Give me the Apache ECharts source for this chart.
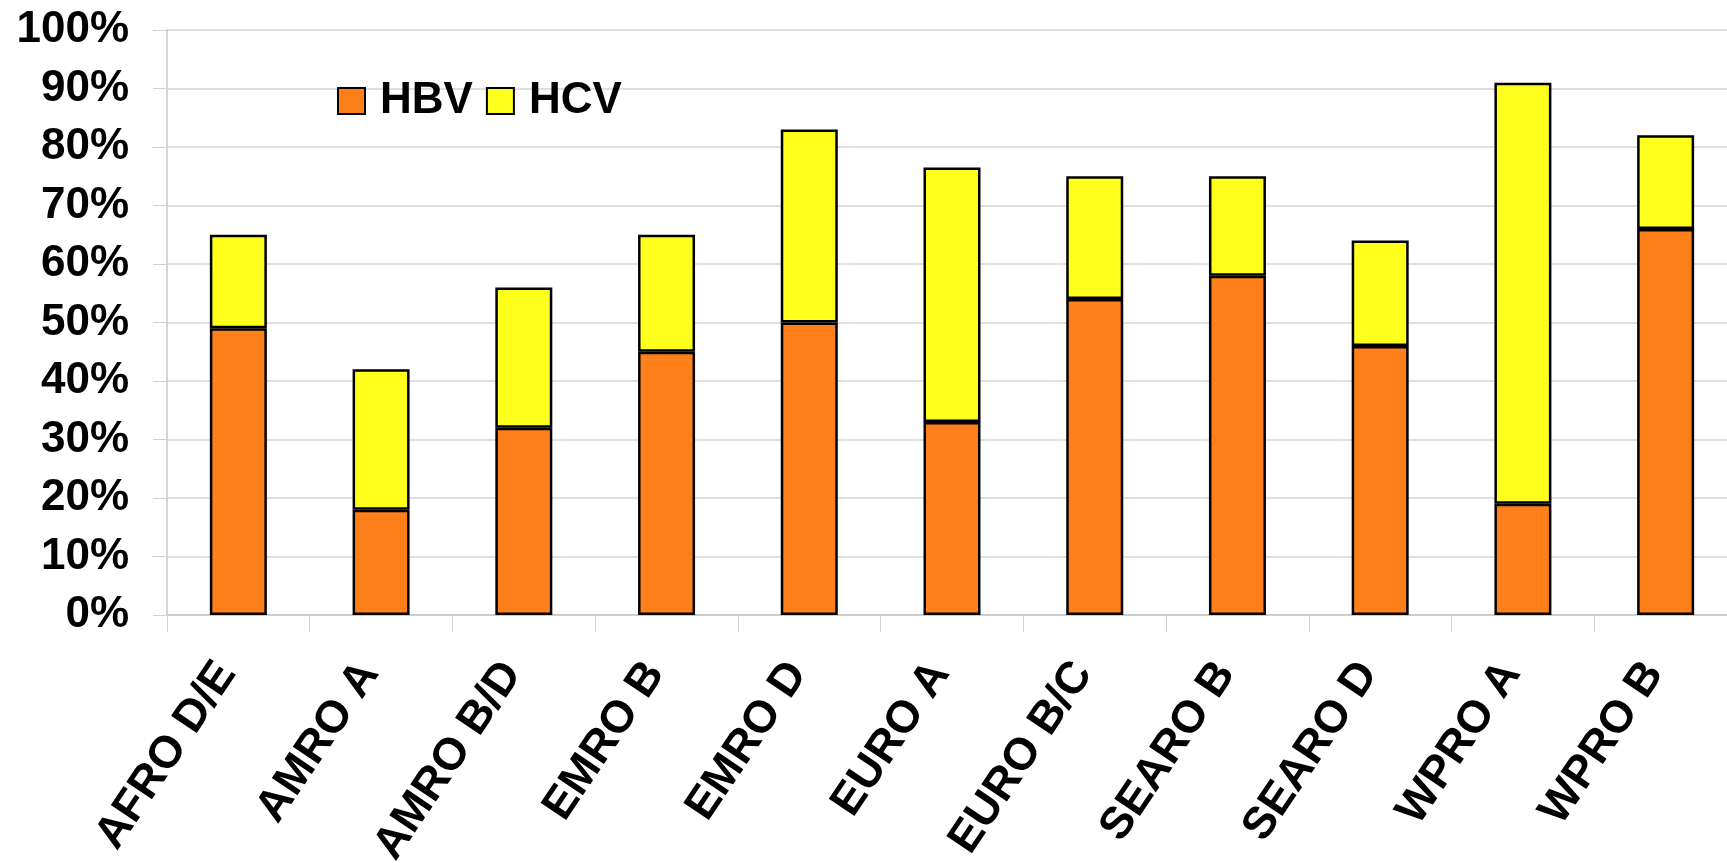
<!DOCTYPE html>
<html>
<head>
<meta charset="utf-8">
<script src="https://cdn.jsdelivr.net/npm/echarts@6/dist/echarts.min.js"></script>
<style>
  html, body { margin: 0; padding: 0; background: #fff; }
  #chart { width: 1727px; height: 863px; }
</style>
</head>
<body>
<div id="chart"></div>
<script>
const categories = ['AFRO D/E', 'AMRO A', 'AMRO B/D', 'EMRO B', 'EMRO D', 'EURO A', 'EURO B/C', 'SEARO B', 'SEARO D', 'WPRO A', 'WPRO B'];
const hbv = [49, 18, 32, 45, 50, 33, 54, 58, 46, 19, 66];
const hcv = [16, 24, 24, 20, 33, 43.5, 21, 17, 18, 72, 16];
const yTicks = { min: 0, max: 100, interval: 10 };

const FONT = '"Liberation Sans", Arial, sans-serif';
const chart = echarts.init(document.getElementById('chart'));
chart.setOption({
  backgroundColor: '#ffffff',
  animation: false,
  textStyle: { fontFamily: FONT },
  grid: { left: 167, width: 1570, top: 30, bottom: 248, containLabel: false, outerBoundsMode: 'none' },
  legend: {
    data: ['HBV', 'HCV'],
    left: 332,
    top: 74,
    icon: 'rect',
    itemWidth: 27,
    itemHeight: 26,
    itemGap: 13,
    textStyle: { fontFamily: FONT, fontSize: 44, fontWeight: 'bold', color: '#000', padding: [0, 0, 0, 10] }
  },
  xAxis: {
    type: 'category',
    data: categories,
    axisLine: { show: true, lineStyle: { color: '#c8c8c8', width: 1.5 } },
    axisTick: { show: true, length: 17, lineStyle: { color: '#d0d0d0' } },
    axisLabel: {
      rotate: 56,
      margin: 34,
      padding: [0, 21, 0, 0],
      fontFamily: FONT,
      fontSize: 45,
      fontWeight: 'bold',
      color: '#000',
      interval: 0
    }
  },
  yAxis: {
    type: 'value',
    min: yTicks.min,
    max: yTicks.max,
    interval: yTicks.interval,
    axisLine: { show: true, lineStyle: { color: '#c8c8c8', width: 1.5 } },
    axisTick: { show: true, length: 14, lineStyle: { color: '#d0d0d0' } },
    splitLine: { show: true, lineStyle: { color: '#d4d4d4', width: 1.5 } },
    axisLabel: {
      formatter: '{value}%',
      margin: 38,
      fontFamily: FONT,
      fontSize: 44,
      fontWeight: 'bold',
      color: '#000'
    }
  },
  series: [
    {
      name: 'HBV',
      type: 'bar',
      stack: 'total',
      data: hbv,
      barWidth: 57,
      itemStyle: { color: '#FF7F1A', borderColor: '#000', borderWidth: 2.5 }
    },
    {
      name: 'HCV',
      type: 'bar',
      stack: 'total',
      data: hcv,
      barWidth: 57,
      itemStyle: { color: '#FFFF1E', borderColor: '#000', borderWidth: 2.5 }
    }
  ]
});
</script>
</body>
</html>
